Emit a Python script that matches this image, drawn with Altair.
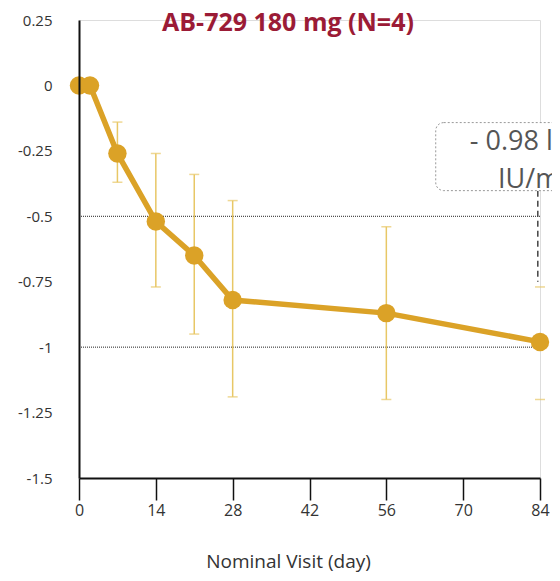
import altair as alt
import pandas as pd

# ---- data ----
days = [0, 2, 7, 14, 21, 28, 56, 84]
mean_change = [0.0, 0.0, -0.26, -0.52, -0.65, -0.82, -0.87, -0.98]

err_days = [7, 14, 21, 28, 56, 84]
err_high = [-0.14, -0.26, -0.34, -0.44, -0.54, -0.77]
err_low = [-0.37, -0.77, -0.95, -1.19, -1.20, -1.20]

ref_levels = [-0.5, -1.0]

y_ticks = [0.25, 0, -0.25, -0.5, -0.75, -1, -1.25, -1.5]
x_ticks = [0, 7, 14, 21, 28, 35, 42, 49, 56, 63, 70, 77, 84]

title_text = ["AB-729 180 mg (N=4)"]
x_title = "Nominal Visit (day)"
ann_lines = ["- 0.98 log\u2081\u2080", "IU/mL"]
ann_y = [-0.218, -0.363]
ann_x = 83.3
box_x = [65, 100]
box_y = [-0.142, -0.402]
dash_x = 83.6
dash_y = [-0.402, -0.75]

GOLD = "#DBA227"
GOLD_LIGHT = "#E8C766"
FONT = "Open Sans"

main = pd.DataFrame({"day": days, "mean": mean_change})
err = pd.DataFrame({"day": err_days, "hi": err_high, "lo": err_low})
refs = pd.DataFrame({"y": ref_levels})
ann = pd.DataFrame({"x": [ann_x] * len(ann_lines), "y": ann_y, "t": ann_lines})
box = pd.DataFrame({"x": [box_x[0]], "x2": [box_x[1]], "y": [box_y[0]], "y2": [box_y[1]]})
dash = pd.DataFrame({"x": [dash_x], "y": [dash_y[0]], "y2": [dash_y[1]]})
ttl = pd.DataFrame({"t": title_text})

xscale = alt.Scale(domain=[0, 84], nice=False, zero=False)
yscale = alt.Scale(domain=[-1.5, 0.25], nice=False, zero=False)

xaxis = alt.Axis(
    values=x_ticks,
    labelExpr="datum.value % 14 == 0 ? datum.label : ''",
    labelFlush=False,
    labelOverlap=False,
    grid=False,
    domainColor="#111111",
    domainWidth=2,
    tickColor="#111111",
    tickWidth=1.5,
    tickSize={"condition": {"test": "datum.value % 14 == 0", "value": 22}, "value": 11},
    labelPadding=2,
    labelFont=FONT,
    labelFontSize=16,
    labelColor="#333333",
    title=x_title,
    titleFont=FONT,
    titleFontSize=19,
    titleFontWeight="normal",
    titleColor="#333333",
    titleX=209,
    titleY=83,
    titleBaseline="middle",
    titleAnchor="start",
    titleAlign="center",
    zindex=1,
)

yaxis = alt.Axis(
    values=y_ticks,
    labelExpr="'' + datum.value",
    grid=False,
    ticks=False,
    domainColor="#111111",
    domainWidth=2,
    labelPadding=27,
    labelFont=FONT,
    labelFontSize=15,
    labelColor="#333333",
    title=None,
    zindex=1,
)

base_x = alt.X("day:Q", scale=xscale, axis=xaxis)

ref_rules = alt.Chart(refs).mark_rule(color="#222222", strokeWidth=1, strokeDash=[1, 1]).encode(
    y=alt.Y("y:Q", scale=yscale, axis=yaxis)
)

bars = alt.Chart(err).transform_filter("datum.day < 84").mark_rule(
    color=GOLD_LIGHT, strokeWidth=1.5
).encode(x=base_x, y=alt.Y("hi:Q", scale=yscale), y2="lo:Q")

caps_hi = alt.Chart(err).mark_tick(color=GOLD_LIGHT, thickness=1.5, size=10, orient="horizontal").encode(
    x=base_x, y=alt.Y("hi:Q", scale=yscale)
)
caps_lo = alt.Chart(err).mark_tick(color=GOLD_LIGHT, thickness=1.5, size=10, orient="horizontal").encode(
    x=base_x, y=alt.Y("lo:Q", scale=yscale)
)

line = alt.Chart(main).mark_line(color=GOLD, strokeWidth=5.5).encode(
    x=base_x, y=alt.Y("mean:Q", scale=yscale)
)
pts = alt.Chart(main).mark_circle(color=GOLD, size=340, opacity=1).encode(
    x=base_x, y=alt.Y("mean:Q", scale=yscale)
)

dash_rule = alt.Chart(dash).mark_rule(color="#444444", strokeWidth=1.5, strokeDash=[6, 4]).encode(
    x=alt.X("x:Q", scale=xscale), y=alt.Y("y:Q", scale=yscale), y2="y2:Q"
)

box_rect = alt.Chart(box).mark_rect(
    fill="white", stroke="#999999", strokeWidth=1, strokeDash=[2, 2], cornerRadius=8
).encode(x=alt.X("x:Q", scale=xscale), x2="x2:Q", y=alt.Y("y:Q", scale=yscale), y2="y2:Q")

ann_text = alt.Chart(ann).mark_text(
    font=FONT, fontSize=27, color="#555555", align="center", baseline="middle"
).encode(x=alt.X("x:Q", scale=xscale), y=alt.Y("y:Q", scale=yscale), text="t:N")

title_mark = alt.Chart(ttl).mark_text(
    font=FONT, fontSize=25, fontWeight="bold", color="#9B1B36", align="center", baseline="middle"
).encode(x=alt.value(209), y=alt.value(3), text="t:N")

chart = alt.layer(
    ref_rules, bars, caps_hi, caps_lo, line, pts, dash_rule, box_rect, ann_text, title_mark
).properties(
    width=461,
    height=458,
    padding={"left": 71, "top": 12, "right": 12, "bottom": 94},
    autosize=alt.AutoSizeParams(type="none"),
).configure_view(stroke=None).configure(background="white")

chart.save("out.html", embed_options={"renderer": "svg", "actions": False})
